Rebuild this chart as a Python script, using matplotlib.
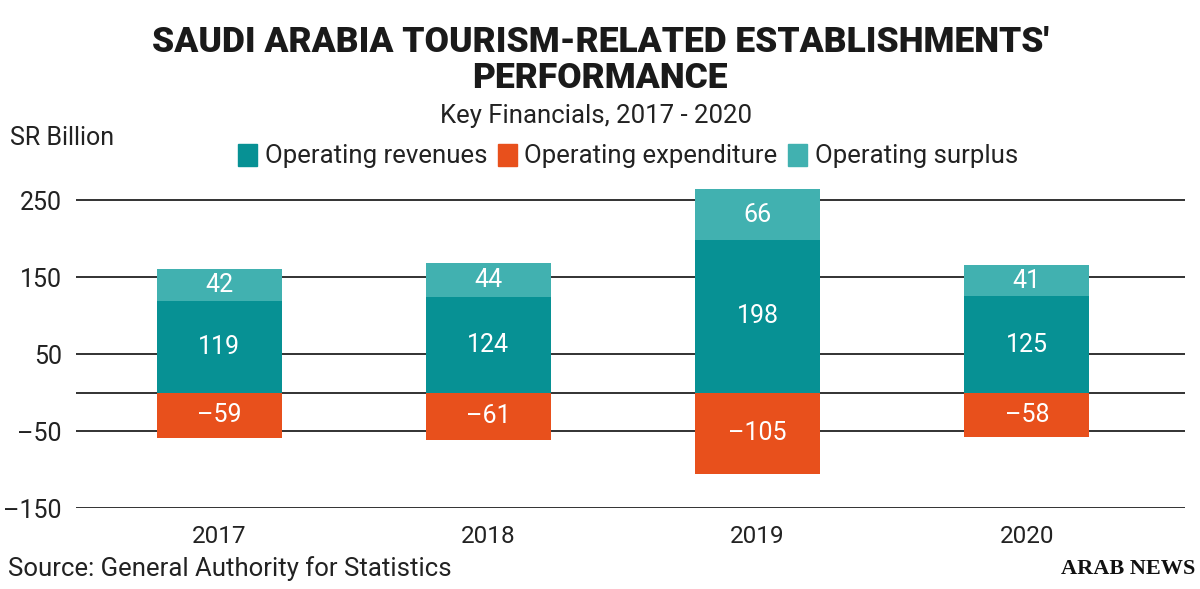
import matplotlib
matplotlib.use("Agg")  # headless backend

import matplotlib.pyplot as plt
import numpy as np
from matplotlib.patches import Patch

# --- data (SR billion) ---
years = ["2017", "2018", "2019", "2020"]
revenues = [119, 124, 198, 125]
expenditure = [-59, -61, -105, -58]
surplus = [42, 44, 66, 41]

tick_vals = [250, 150, 50, -50, -150]
tick_labels = ["250", "150", "50", "\u201350", "\u2013150"]
grid_vals = [250, 150, 50, 0, -50, -150]

REV = "#079194"
EXP = "#E8501C"
SUR = "#41B1B0"
INK = "#222222"

plt.rcParams['font.family'] = ['Roboto', 'DejaVu Sans']

fig = plt.figure(figsize=(12, 5.89), dpi=100)
ax = fig.add_axes([0.063, 0.137, 0.9245, 0.556])

x = np.arange(len(years))
w = 0.464
ax.bar(x, revenues, w, color=REV, zorder=3)
ax.bar(x, surplus, w, bottom=revenues, color=SUR, zorder=3)
ax.bar(x, expenditure, w, color=EXP, zorder=3)

for g in grid_vals:
    ax.axhline(g, color=INK, lw=1.3, zorder=1)

def fmt(v):
    return f"\u2013{abs(v)}" if v < 0 else str(v)

lab = dict(ha="center", va="center", color="white", fontsize=18, zorder=4)
for xi, r, s, e in zip(x, revenues, surplus, expenditure):
    ax.text(xi, r / 2, fmt(r), **lab)
    ax.text(xi, r + s / 2, fmt(s), **lab)
    ax.text(xi, e / 2, fmt(e), **lab)

ax.set_xlim(-0.533, 3.587)
ax.set_ylim(-150, 275)
ax.set_yticks(tick_vals, labels=tick_labels)
ax.set_xticks(x, labels=years)
ax.tick_params(axis="y", length=0, pad=10, labelsize=18, colors=INK)
ax.tick_params(axis="x", length=0, pad=12, labelsize=17.5, colors=INK)
for sp in ax.spines.values():
    sp.set_visible(False)

# titles
fig.text(0.5, 1 - 43 / 589, "SAUDI ARABIA TOURISM-RELATED ESTABLISHMENTS'",
         ha="center", va="center", fontsize=25.5, fontweight="heavy", color="#1a1a1a")
fig.text(0.5, 1 - 78 / 589, "PERFORMANCE",
         ha="center", va="center", fontsize=25.5, fontweight="heavy", color="#1a1a1a")
fig.text(0.497, 1 - 116 / 589, "Key Financials, 2017 - 2020",
         ha="center", va="center", fontsize=18.5, color=INK)
fig.text(10 / 1200, 1 - 138 / 589, "SR Billion",
         ha="left", va="center", fontsize=18, color=INK)

handles = [Patch(color=REV, label="Operating revenues"),
           Patch(color=EXP, label="Operating expenditure"),
           Patch(color=SUR, label="Operating surplus")]
leg = fig.legend(handles=handles, loc="center", bbox_to_anchor=(628 / 1200, 1 - 156 / 589),
                 ncol=3, frameon=False, fontsize=18.5, handlelength=0.75, handleheight=0.95,
                 handletextpad=0.3, columnspacing=0.4, borderpad=0)
for t in leg.get_texts():
    t.set_color(INK)

fig.text(8 / 1200, 1 - 569 / 589, "Source: General Authority for Statistics",
         ha="left", va="center", fontsize=18.5, color=INK)
fig.text(1195 / 1200, 1 - 569 / 589, "ARAB NEWS",
         ha="right", va="center", fontsize=16, fontweight="bold",
         family=["Liberation Serif", "DejaVu Serif"], color="#111111")

fig.savefig("out.png", dpi=100)
plt.close(fig)
